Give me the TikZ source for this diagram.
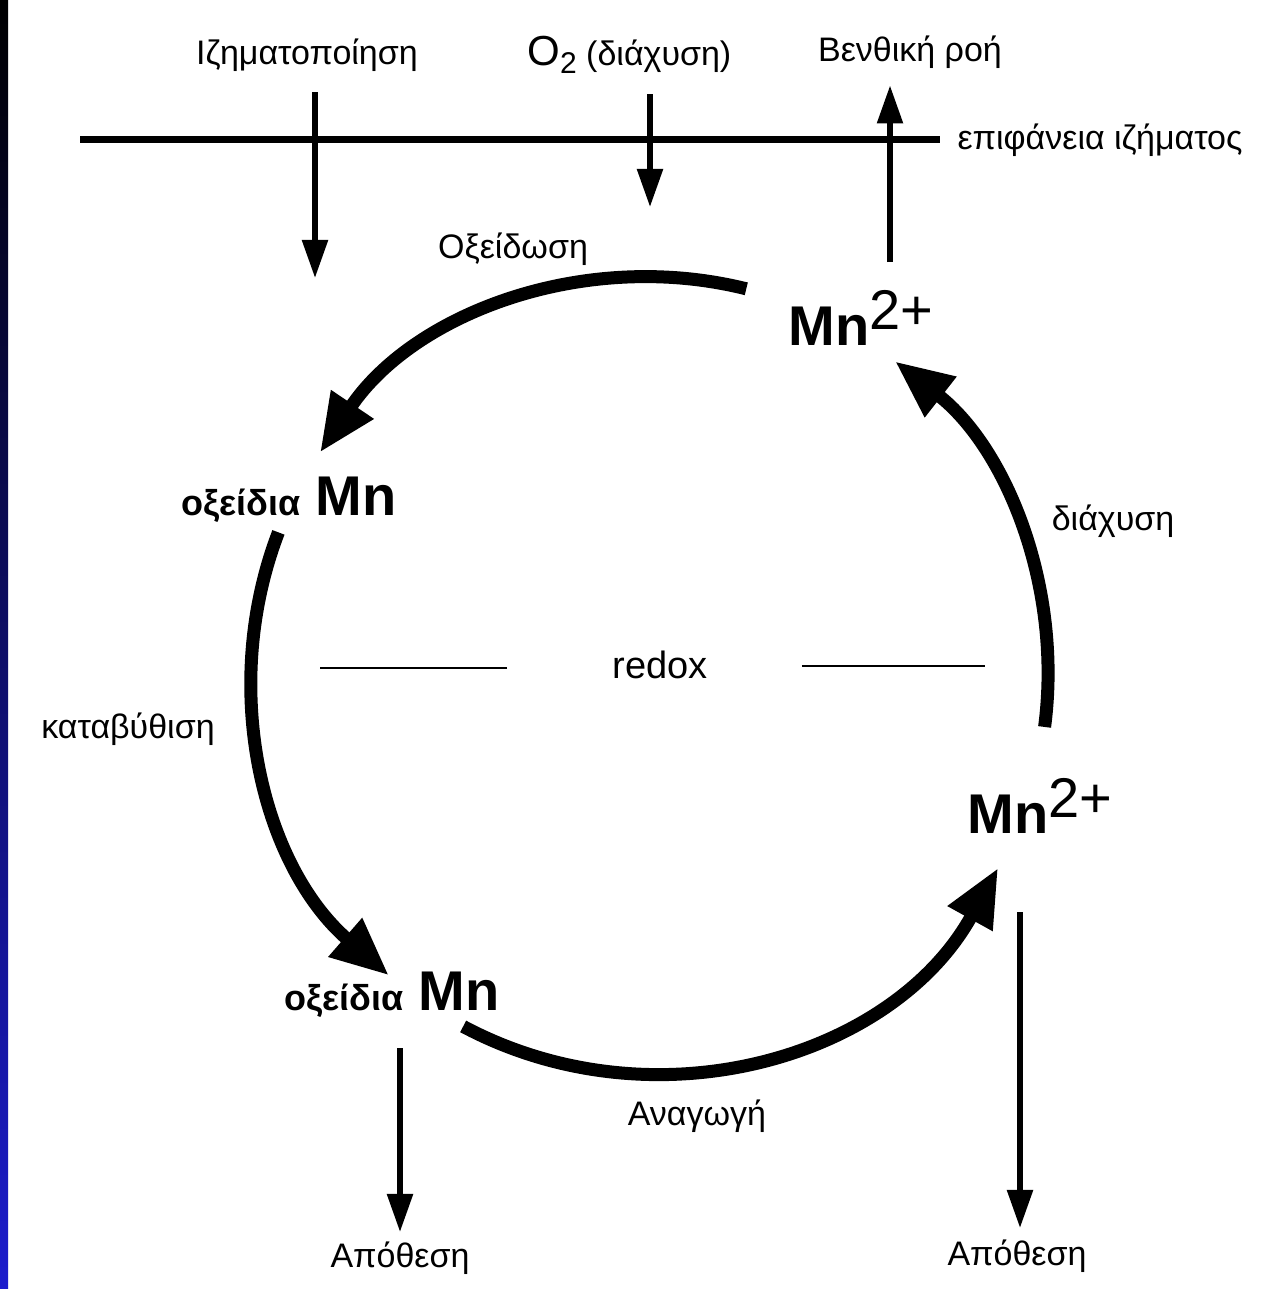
\documentclass[tikz,border=0pt]{standalone}
\usepackage{fontspec}
\setmainfont{Liberation Sans}
\usetikzlibrary{arrows.meta}
\definecolor{stripblue}{RGB}{28,28,205}
\tikzset{
    lbl/.style={font=\fontsize{17}{20}\selectfont, inner sep=0pt},
    ion/.style={inner sep=0pt},
    thinarr/.style={line width=2.75pt, -{Triangle[length=19pt,width=12.5pt]}},
    bigarr/.style={line width=6.5pt, -{Triangle[length=29pt,width=24pt]}},
    surfline/.style={line width=3.5pt},
    redoxline/.style={line width=1pt}
}
\newcommand{\mnion}{{\fontsize{28}{32}\selectfont\bfseries Mn\raisebox{8pt}{\mdseries 2+}}}
\newcommand{\mnox}{{\fontsize{18}{21}\selectfont\bfseries οξείδια}{\fontsize{28}{32}\selectfont\bfseries\ Mn}}
\newcommand{\labltext}[4]{\node[lbl, anchor=base] (#1) at ( #2 , #3 ) {#4};}
\newcommand{\cyclearc}[2]{\draw[bigarr] ([shift={(#1:\R)}]c) arc[start angle=#1, end angle=#2, radius=\R];}

\begin{document}
\begin{tikzpicture}[x=0.5pt, y=-0.5pt]

        \useasboundingbox (0,0) rectangle (1270,1289);
        \fill[white] (0,0) rectangle (1270,1289);
        \shade[top color=black, bottom color=stripblue] (0,0) rectangle (8,1289);

        % surface
        \draw[surfline] (80,140) -- (940,140) node[lbl, anchor=west, xshift=7pt] (surf) {επιφάνεια ιζήματος};

        % fluxes across the surface
        \labltext{sedim}{307}{65}{Ιζηματοποίηση}
        \node[lbl, anchor=base west] (otwo) at (527,66) {{\fontsize{21}{24}\selectfont O}\raisebox{-4pt}{\fontsize{15}{18}\selectfont 2}\ (διάχυση)};
        \labltext{benth}{910}{62}{Βενθική ροή}

        \coordinate (sedend) at (315,278);
        \coordinate (otwoend) at (650,207);
        \coordinate (benthbot) at (890,262);

        \draw[thinarr, shorten <=10pt] (sedim.south -| sedend) -- (sedend);
        \draw[thinarr, shorten <=10pt] (otwo.south -| otwoend) -- (otwoend);
        \draw[thinarr, shorten >=8pt] (benthbot) -- (benth.south -| benthbot);

        % species
        \node[ion, anchor=base west] (mntop) at (788,345) {\mnion};
        \node[ion, anchor=base west] (mnright) at (967,833) {\mnion};
        \node[ion, anchor=base east] (oxtop) at (397,515) {\mnox};
        \node[ion, anchor=base east] (oxbot) at (500,1010) {\mnox};

        % cycle
        \coordinate (c) at (650,675);
        \def\R{398}
        \cyclearc{-76}{-146}
        \cyclearc{-159}{-229}
        \cyclearc{-242}{-331}
        \cyclearc{7.5}{-52}

        \labltext{oxid}{513}{258}{Οξείδωση}
        \labltext{katav}{128}{738}{καταβύθιση}
        \labltext{anag}{697}{1125}{Αναγωγή}
        \labltext{diax}{1113}{530}{διάχυση}

        % redox
        \node[lbl, font=\fontsize{19}{22}\selectfont, anchor=base] (redox) at (660,678) {redox};
        \draw[redoxline] (redox.west) ++(-105,4) -- ++(-187,0);
        \draw[redoxline] (redox.east) ++(94,2) -- ++(183,0);

        % burial
        \labltext{apoL}{400}{1267}{Απόθεση}
        \labltext{apoR}{1017}{1265}{Απόθεση}
        \coordinate (apoLtop) at (400,1048);
        \coordinate (apoRtop) at (1020,912);
        \draw[thinarr, shorten >=4.5pt] (apoLtop) -- (apoL.north);
        \draw[thinarr, shorten >=5.5pt] (apoRtop) -- (apoR.north -| apoRtop);

    \end{tikzpicture}
\end{document}
